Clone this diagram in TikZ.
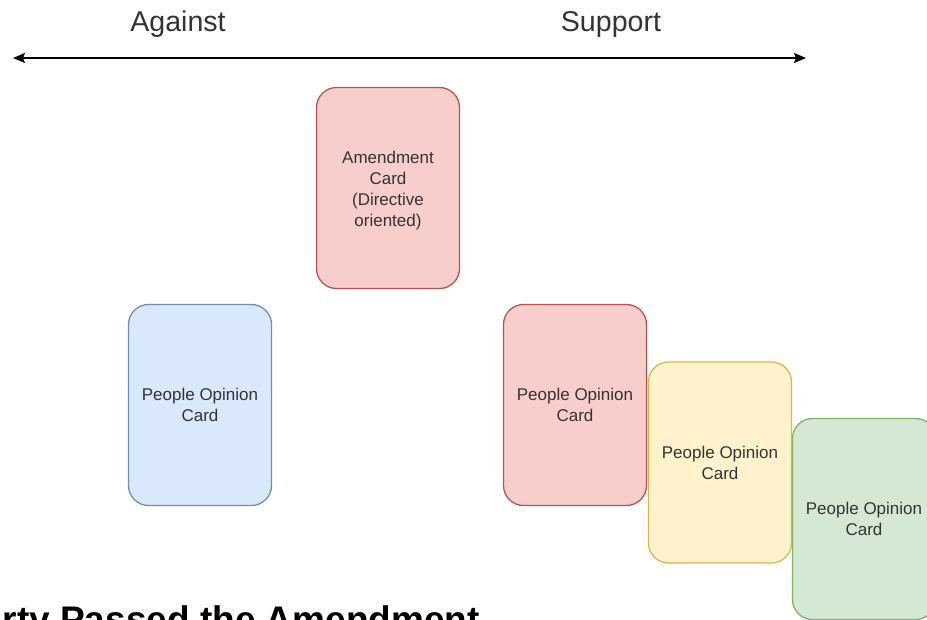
\documentclass[tikz,border=0pt]{standalone}
\usepackage{fontspec}
\setmainfont{Liberation Sans}
\usetikzlibrary{arrows.meta}
\definecolor{txt}{HTML}{333333}
\definecolor{redfill}{HTML}{F8CECC}
\definecolor{redline}{HTML}{B85450}
\definecolor{bluefill}{HTML}{DAE8FC}
\definecolor{blueline}{HTML}{6C8EBF}
\definecolor{yellowfill}{HTML}{FFF2CC}
\definecolor{yellowline}{HTML}{D6B656}
\definecolor{greenfill}{HTML}{D5E8D4}
\definecolor{greenline}{HTML}{82B366}
\begin{document}
\begin{tikzpicture}[x=1pt,y=-1pt,
  card/.style={draw, line width=1.3pt, rounded corners=20pt,
    minimum width=143pt, minimum height=201pt, inner sep=0pt,
    align=center, text=txt, font=\fontsize{17}{21}\selectfont},
  redcard/.style={card, fill=redfill, draw=redline},
  bluecard/.style={card, fill=bluefill, draw=blueline},
  yellowcard/.style={card, fill=yellowfill, draw=yellowline},
  greencard/.style={card, fill=greenfill, draw=greenline},
  heading/.style={text=txt, inner sep=0pt, font=\fontsize{28.6}{34}\selectfont},
  title/.style={inner sep=0pt, text=black, font=\fontsize{37}{44}\selectfont\bfseries},
  opinionaxis/.style={line width=1.3pt, {Stealth[length=12pt,width=10pt,inset=2pt]}-{Stealth[length=12pt,width=10pt,inset=2pt]}}]
\useasboundingbox (0,0) rectangle (927,619);
\begin{scope}
\clip (0,0) rectangle (927,619);

% opinion scale
\node[heading] (against) at (178,24.5) {Against};
\node[heading] (support) at (611,24.5) {Support};
\coordinate (leftend) at (13,58);
\coordinate (rightend) at (806,58);
\draw[opinionaxis] (leftend) -- (rightend);

% cards
\node[redcard] (amend) at (388,188) {\parbox[c][80pt][b]{140pt}{\centering\fontsize{17}{21}\selectfont Amendment\\Card\\(Directive\\oriented)}};
\node[bluecard] (blue) at (200,405) {People Opinion\\Card};
\node[redcard] (red) at (575,405) {People Opinion\\Card};
\node[yellowcard] (yellow) at (720,462.5) {People Opinion\\Card};
\node[greencard] (green) at (864,519) {People Opinion\\Card};

% caption
\node[title, anchor=base east] (caption) at (480,632) {Party Passed the Amendment};
\end{scope}
\end{tikzpicture}
\end{document}
